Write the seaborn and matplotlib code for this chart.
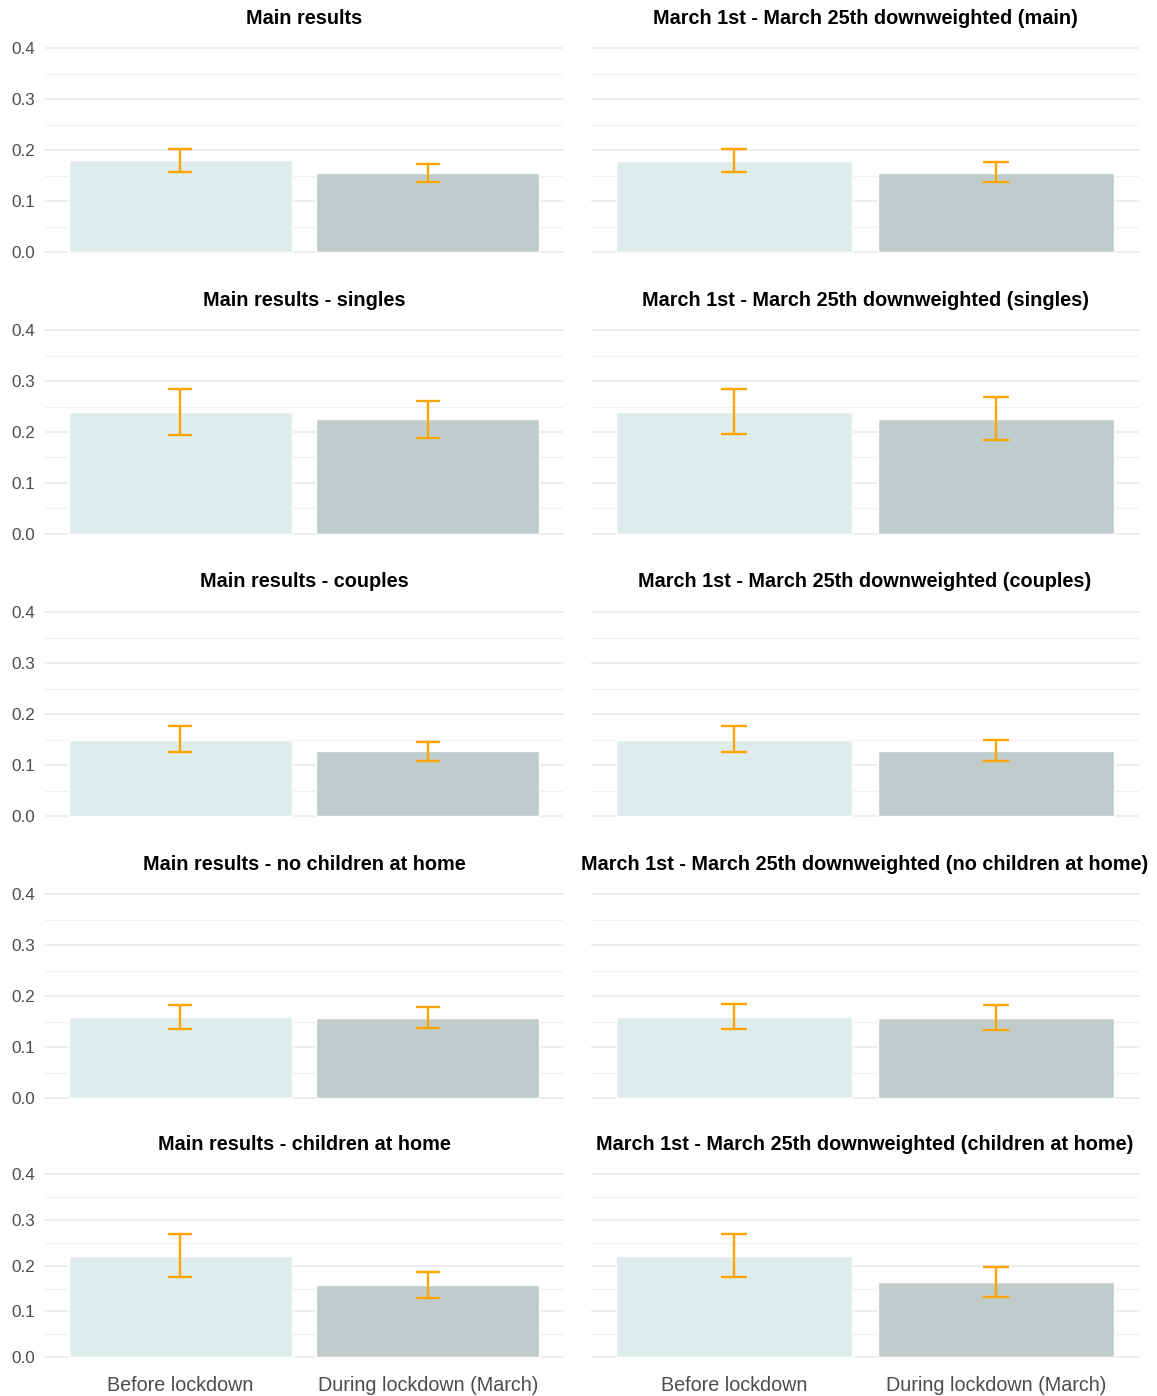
import matplotlib
matplotlib.use("Agg")
import matplotlib.pyplot as plt
from matplotlib.ticker import MultipleLocator
import numpy as np
import pandas as pd
import seaborn as sns

# ---------------- data ----------------
categories = ["Before lockdown", "During lockdown (March)"]

panel_titles = [
    "Main results",
    "March 1st - March 25th downweighted (main)",
    "Main results - singles",
    "March 1st - March 25th downweighted (singles)",
    "Main results - couples",
    "March 1st - March 25th downweighted (couples)",
    "Main results - no children at home",
    "March 1st - March 25th downweighted (no children at home)",
    "Main results - children at home",
    "March 1st - March 25th downweighted (children at home)",
]

before_est = [0.180, 0.179, 0.239, 0.240, 0.150, 0.150, 0.158, 0.158, 0.222, 0.222]
before_lo = [0.157, 0.157, 0.195, 0.197, 0.126, 0.126, 0.135, 0.135, 0.176, 0.175]
before_hi = [0.202, 0.202, 0.284, 0.285, 0.176, 0.176, 0.183, 0.185, 0.270, 0.270]

during_est = [0.155, 0.155, 0.225, 0.226, 0.127, 0.128, 0.156, 0.157, 0.157, 0.164]
during_lo = [0.138, 0.137, 0.189, 0.184, 0.108, 0.107, 0.137, 0.134, 0.129, 0.132]
during_hi = [0.1725, 0.176, 0.261, 0.269, 0.146, 0.150, 0.179, 0.183, 0.187, 0.198]

y_ticks = [0.0, 0.1, 0.2, 0.3, 0.4]

# ---------------- style ----------------
bar_colors = ["#dfecec", "#c0cccc"]
err_color = "#FFA500"
tick_color = "#4d4d4d"

sns.set_theme(style="whitegrid")
plt.rcParams["font.family"] = ["Liberation Sans", "DejaVu Sans"]

W, H = 1157, 1396
fig = plt.figure(figsize=(W / 100, H / 100), dpi=100)
fig.patch.set_facecolor("white")

col_x = [(45, 563), (591, 1139)]
row_top = [48, 330, 612, 894, 1174.5]
row_zero = [252, 534, 816, 1098, 1357]
ymin, ymax = -0.003, 0.403

for i, title in enumerate(panel_titles):
    r, c = divmod(i, 2)
    x0, x1 = col_x[c]
    scale = (row_zero[r] - row_top[r]) / 0.4
    ytop = row_top[r] - (ymax - 0.4) * scale
    ybot = row_zero[r] + (0 - ymin) * scale
    ax = fig.add_axes([x0 / W, 1 - ybot / H, (x1 - x0) / W, (ybot - ytop) / H])
    ax.set_facecolor("white")

    df = pd.DataFrame({
        "period": categories,
        "value": [before_est[i], during_est[i]],
        "lo": [before_lo[i], during_lo[i]],
        "hi": [before_hi[i], during_hi[i]],
    })
    sns.barplot(data=df, x="period", y="value", hue="period", palette=bar_colors,
                width=0.9, errorbar=None, legend=False, saturation=1, ax=ax, zorder=2)
    xpos = np.arange(len(categories))
    yerr = np.vstack([df["value"] - df["lo"], df["hi"] - df["value"]])
    cap = 8.5 if c == 0 else 9.3
    ax.errorbar(xpos, df["value"], yerr=yerr, fmt="none", ecolor=err_color,
                elinewidth=1.7, capsize=cap, capthick=1.7, zorder=3)

    ax.set_xlim(-0.545, 1.545)
    ax.set_ylim(ymin, ymax)
    ax.set_yticks(y_ticks)
    ax.set_yticklabels([f"{t:.1f}" for t in y_ticks])
    ax.yaxis.set_minor_locator(MultipleLocator(0.05))
    ax.set_axisbelow(True)
    ax.xaxis.grid(False)
    ax.yaxis.grid(True, which="major", color="#ebebeb", lw=1.2)
    ax.yaxis.grid(True, which="minor", color="#f1f1f1", lw=0.9)
    for s in ax.spines.values():
        s.set_visible(False)
    ax.set_xlabel("")
    ax.set_ylabel("")
    ax.tick_params(which="both", length=0)
    ax.tick_params(axis="y", labelsize=12.3, labelcolor=tick_color, pad=7,
                   labelleft=(c == 0))
    ax.tick_params(axis="x", labelsize=14.2, labelcolor=tick_color, pad=13,
                   labelbottom=(r == 4))

    fig.text(((x0 + x1) / 2) / W, 1 - (row_top[r] - 30) / H, title,
             ha="center", va="center", fontsize=14.3, fontweight="bold", color="black")

fig.savefig("out.png", dpi=100, facecolor="white")
